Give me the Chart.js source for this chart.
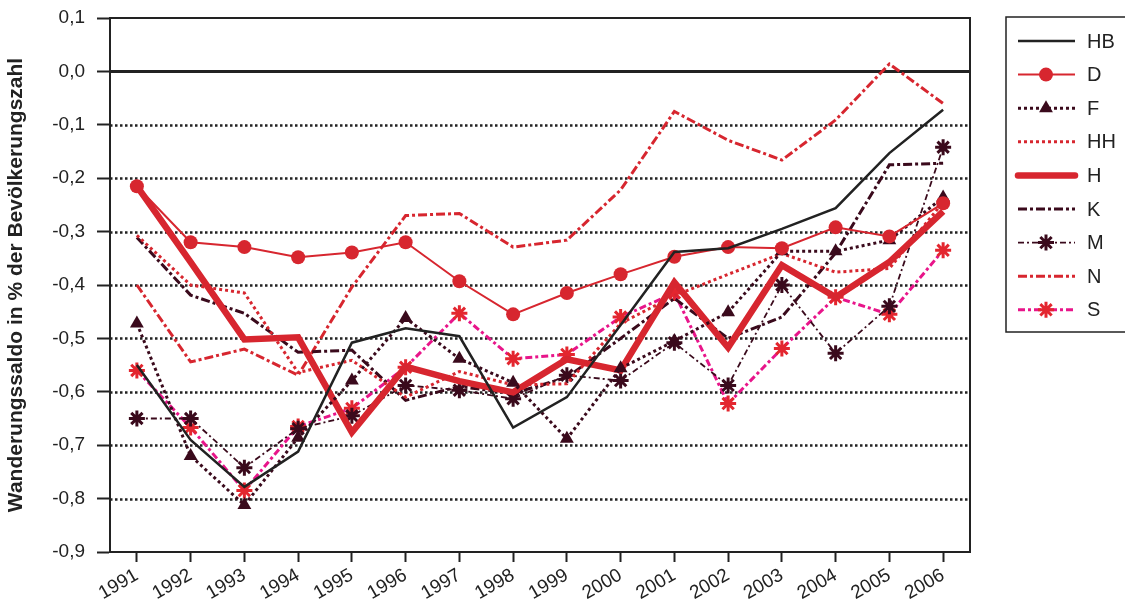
<!DOCTYPE html>
<html>
<head>
<meta charset="utf-8">
<script src="https://cdn.jsdelivr.net/npm/chart.js@4.4.1/dist/chart.umd.min.js"></script>
<style>
  html, body { margin: 0; padding: 0; background: #fff; }
  #wrap { width: 1125px; height: 610px; }
</style>
</head>
<body>
<div id="wrap"><canvas id="chart" width="1125" height="610"></canvas></div>
<script>
// Jahre (Kategorien)
const years = ['1991','1992','1993','1994','1995','1996','1997','1998','1999','2000','2001','2002','2003','2004','2005','2006'];

// Wanderungssaldo in % der Bevölkerungszahl
const valHB = [-0.55, -0.69, -0.778, -0.712, -0.508, -0.481, -0.496, -0.667, -0.61, -0.475, -0.338, -0.331, -0.295, -0.256, -0.153, -0.072];
const valD  = [-0.215, -0.32, -0.329, -0.348, -0.339, -0.32, -0.393, -0.455, -0.415, -0.38, -0.347, -0.329, -0.331, -0.292, -0.309, -0.247];
const valF  = [-0.472, -0.72, -0.812, -0.686, -0.579, -0.462, -0.538, -0.583, -0.688, -0.556, -0.505, -0.451, -0.337, -0.337, -0.316, -0.236];
const valHH = [-0.307, -0.40, -0.415, -0.564, -0.541, -0.61, -0.562, -0.587, -0.585, -0.472, -0.42, -0.38, -0.341, -0.376, -0.369, -0.245];
const valH  = [-0.215, -0.357, -0.502, -0.498, -0.676, -0.553, -0.58, -0.601, -0.539, -0.56, -0.395, -0.517, -0.363, -0.423, -0.357, -0.262];
const valK  = [-0.311, -0.419, -0.453, -0.526, -0.522, -0.616, -0.59, -0.603, -0.573, -0.50, -0.425, -0.50, -0.46, -0.34, -0.175, -0.172];
const valM  = [-0.65, -0.65, -0.742, -0.669, -0.645, -0.588, -0.597, -0.613, -0.569, -0.579, -0.508, -0.588, -0.40, -0.528, -0.44, -0.142];
const valN  = [-0.40, -0.544, -0.52, -0.569, -0.404, -0.27, -0.266, -0.329, -0.316, -0.222, -0.075, -0.129, -0.166, -0.091, 0.014, -0.06];
const valS  = [-0.56, -0.667, -0.785, -0.665, -0.631, -0.554, -0.453, -0.538, -0.53, -0.46, -0.415, -0.622, -0.519, -0.423, -0.455, -0.335];

// y-Achse
const yMin = -0.9;
const yMax = 0.1;
const yStep = 0.1;

const BLACK = '#222222';
const RED = '#d7262f';
const DARK = '#3a0a1c';
const PINK = '#e8158a';
const FONT = '"Liberation Sans", Arial, sans-serif';

const line = (label, data, color, width, dash, extra = {}) => ({
  label,
  data,
  borderColor: color,
  backgroundColor: color,
  borderWidth: width,
  borderDash: dash,
  tension: 0,
  fill: false,
  pointRadius: 0,
  pointHoverRadius: 0,
  ...extra
});

const datasets = [
  line('HB', valHB, BLACK, 2.5, []),
  line('D', valD, RED, 2, [], { pointStyle: 'circle', pointRadius: 7, pointBackgroundColor: RED, pointBorderWidth: 0 }),
  line('F', valF, DARK, 3, [3, 3], { pointStyle: 'triangle', pointRadius: 8, pointBackgroundColor: DARK, pointBorderColor: DARK, pointBorderWidth: 0 }),
  line('HH', valHH, RED, 3, [3, 3]),
  line('H', valH, RED, 6.5, []),
  line('K', valK, DARK, 3, [9, 3, 3, 3]),
  line('M', valM, DARK, 1.8, [6, 3, 2, 3], { pointStyle: 'star', pointRadius: 8, pointBorderColor: DARK, pointBackgroundColor: DARK, pointBorderWidth: 3 }),
  line('N', valN, RED, 3, [9, 3, 3, 3]),
  line('S', valS, PINK, 3, [7, 3, 3, 3], { pointStyle: 'star', pointRadius: 8, pointBorderColor: '#e3262f', pointBackgroundColor: '#e3262f', pointBorderWidth: 3 })
];

/* ==== Gitterlinien + Rahmen ==== */
const gridPlugin = {
  id: 'gridLines',
  beforeDatasetsDraw(chart) {
    const { ctx, chartArea: a, scales: { y } } = chart;
    ctx.save();
    y.ticks.forEach(t => {
      const py = Math.round(y.getPixelForValue(t.value)) + 0.5;
      if (Math.abs(t.value) < 1e-9) {
        ctx.setLineDash([]);
        ctx.lineWidth = 3;
      } else if (t.value < yMin + 0.05 || t.value > yMax - 0.05) {
        return;
      } else {
        ctx.setLineDash([2.5, 2.5]);
        ctx.lineWidth = 2.5;
      }
      ctx.strokeStyle = BLACK;
      ctx.beginPath();
      ctx.moveTo(a.left, py);
      ctx.lineTo(a.right, py);
      ctx.stroke();
    });
    // Rahmen oben/rechts
    ctx.setLineDash([]);
    ctx.lineWidth = 2;
    ctx.strokeStyle = BLACK;
    ctx.beginPath();
    ctx.moveTo(a.left, a.top);
    ctx.lineTo(a.right, a.top);
    ctx.lineTo(a.right, a.bottom);
    ctx.stroke();
    ctx.restore();
  }
};

/* ==== Legende rechts im Kasten ==== */
const legendPlugin = {
  id: 'boxLegend',
  afterDraw(chart) {
    const { ctx } = chart;
    const x0 = 1006, y0 = 17;
    ctx.save();
    ctx.strokeStyle = BLACK;
    ctx.lineWidth = 1.5;
    ctx.setLineDash([]);
    ctx.strokeRect(x0, y0, 140, 315);

    chart.data.datasets.forEach((ds, i) => {
      const cy = 41 + i * 33.6;
      ctx.save();
      ctx.strokeStyle = ds.borderColor;
      ctx.lineWidth = ds.borderWidth;
      ctx.setLineDash(ds.borderDash || []);
      ctx.lineCap = ds.borderWidth > 4 ? 'round' : 'butt';
      ctx.beginPath();
      ctx.moveTo(1018, cy);
      ctx.lineTo(1075, cy);
      ctx.stroke();
      ctx.restore();

      if (ds.pointRadius > 0) {
        ctx.save();
        ctx.setLineDash([]);
        ctx.fillStyle = ds.pointBackgroundColor;
        ctx.strokeStyle = ds.pointBorderColor || ds.pointBackgroundColor;
        ctx.lineWidth = ds.pointBorderWidth;
        Chart.helpers.drawPoint(ctx, {
          pointStyle: ds.pointStyle,
          radius: ds.pointRadius,
          rotation: 0,
          borderWidth: ds.pointBorderWidth
        }, 1046, cy);
        ctx.restore();
      }

      ctx.fillStyle = BLACK;
      ctx.font = '20px ' + FONT;
      ctx.textBaseline = 'middle';
      ctx.textAlign = 'left';
      ctx.fillText(ds.label, 1087, cy + 1);
    });
    ctx.restore();
  }
};

const fmt = v => {
  if (Math.abs(v) < 1e-9) return '0,0';
  return v.toFixed(1).replace('.', ',');
};

new Chart(document.getElementById('chart').getContext('2d'), {
  type: 'line',
  data: { labels: years, datasets },
  plugins: [gridPlugin, legendPlugin],
  options: {
    responsive: false,
    animation: false,
    devicePixelRatio: 1,
    layout: { padding: { top: 18, right: 155, bottom: 0, left: 0 } },
    plugins: {
      legend: { display: false },
      tooltip: { enabled: false }
    },
    scales: {
      x: {
        type: 'category',
        offset: true,
        grid: { drawOnChartArea: false, drawTicks: true, tickLength: 10, tickColor: BLACK, tickWidth: 2 },
        border: { display: true, color: BLACK, width: 2 },
        ticks: {
          autoSkip: false,
          minRotation: 30,
          maxRotation: 30,
          padding: 2,
          color: BLACK,
          font: { family: FONT, size: 19 }
        },
        afterFit(scale) {
          scale.height = 58;
          scale.paddingLeft = 0;
          scale.paddingRight = 0;
        }
      },
      y: {
        min: yMin,
        max: yMax,
        grid: { drawOnChartArea: false, drawTicks: true, tickLength: 13, tickColor: BLACK, tickWidth: 2 },
        border: { display: true, color: BLACK, width: 2 },
        ticks: {
          stepSize: yStep,
          padding: 12,
          color: BLACK,
          font: { family: FONT, size: 19 },
          callback: v => fmt(v)
        },
        title: {
          display: true,
          text: 'Wanderungssaldo in % der Bevölkerungszahl',
          color: BLACK,
          font: { family: FONT, size: 21, weight: 'bold' },
          padding: { top: 4, bottom: 0 }
        },
        afterFit(scale) {
          scale.width = 110;
          scale.paddingTop = 0;
          scale.paddingBottom = 0;
        }
      }
    }
  }
});
</script>
</body>
</html>
